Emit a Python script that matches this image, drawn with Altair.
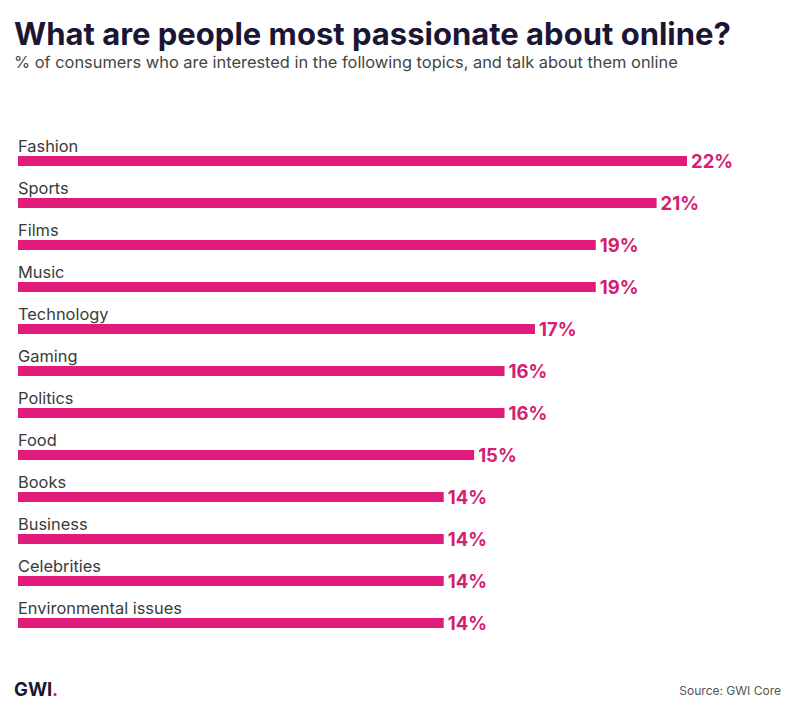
import altair as alt
import pandas as pd

categories = ["Fashion", "Sports", "Films", "Music", "Technology", "Gaming",
              "Politics", "Food", "Books", "Business", "Celebrities",
              "Environmental issues"]
values = [22, 21, 19, 19, 17, 16, 16, 15, 14, 14, 14, 14]
labels = [f"{v}%" for v in values]

df = pd.DataFrame({"topic": categories, "value": values, "label": labels})

PINK = "#E01B79"
PINK_TEXT = "#D4206F"
DARK = "#1B1634"
FONT = "Inter"

x = alt.X("value:Q", scale=alt.Scale(domain=[0, 22], range=[18, 687], nice=False, zero=True), axis=None)
y = alt.Y("topic:N", sort=categories,
          scale=alt.Scale(domain=categories, range=[140, 644], paddingInner=0, paddingOuter=0),
          axis=None)

bars = alt.Chart(df).mark_bar(size=10, color=PINK).encode(x=x, y=y)

cat_text = alt.Chart(df).mark_text(align="left", baseline="middle", dy=-14,
                                   font=FONT, fontSize=16.4, color="#3a3a3a").encode(
    x=alt.value(18), y=y, text="topic:N")

val_text = alt.Chart(df).mark_text(align="left", baseline="middle", dx=4, dy=1,
                                   font=FONT, fontSize=18.5, fontWeight="bold", color=PINK_TEXT).encode(
    x=x, y=y, text="label:N")

def ann(text, xv, yv, size, weight="normal", color=DARK, align="left"):
    return alt.Chart(pd.DataFrame({"t": [text]})).mark_text(
        align=align, baseline="alphabetic", font=FONT, fontSize=size,
        fontWeight=weight, color=color).encode(
        x=alt.value(xv), y=alt.value(yv), text="t:N")

title = ann("What are people most passionate about online?", 14, 45, 31, "bold", DARK)
subtitle = ann("% of consumers who are interested in the following topics, and talk about them online",
               14, 68, 16.4, "normal", "#444444")
logo = ann("GWI", 14, 696, 18.5, "bold", DARK)
logo_dot = ann(".", 52, 696, 18.5, "bold", PINK)
source = ann("Source: GWI Core", 781, 695, 12, "normal", "#555555", align="right")

chart = alt.layer(bars, cat_text, val_text, title, subtitle, logo, logo_dot, source).properties(
    width=796, height=712,
    autosize=alt.AutoSizeParams(type="none"),
    padding=0,
    background="white",
).configure_view(stroke=None)

chart.save("out.html", embed_options={"renderer": "svg", "actions": False})
